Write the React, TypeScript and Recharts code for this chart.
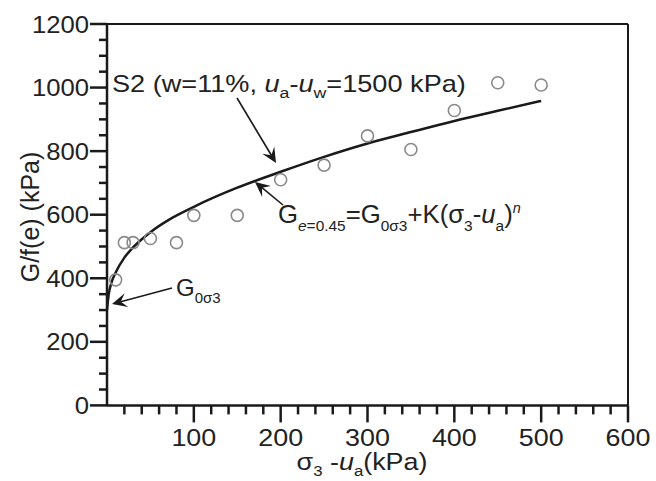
import { ComposedChart, Line, Scatter, XAxis, YAxis, ReferenceLine } from 'recharts';

// fitted curve
const curveX = [0, 2, 5, 10, 20, 30, 50, 75, 100, 150, 200, 250, 300, 350, 400, 450, 500];
const curveG = [300, 350, 385, 418, 465, 497, 545, 590, 625, 685, 735, 782, 824, 860, 895, 927, 958];

// measured points (open circles)
const pointX = [10, 20, 30, 50, 80, 100, 150, 200, 250, 300, 350, 400, 450, 500];
const pointG = [395, 512, 512, 525, 512, 598, 598, 710, 756, 848, 805, 928, 1015, 1008];

const xMajor = [100, 200, 300, 400, 500, 600];
const yMajor = [0, 200, 400, 600, 800, 1000, 1200];

const xTicks: number[] = [];
for (let v = 20; v <= 600; v += 20) xTicks.push(v);
const yTicks: number[] = [];
for (let v = 0; v <= 1200; v += 50) yTicks.push(v);

const curveData = curveX.map((x, i) => ({ x, g: curveG[i] }));
const pointData = pointX.map((x, i) => ({ x, g: pointG[i] }));

const font = '"Liberation Sans", Arial, sans-serif';
const ink = '#1a1a1a';

const XTick = (props: any) => {
  const { x, y, payload } = props;
  const major = xMajor.includes(payload.value);
  return (
    <g>
      <line x1={x} x2={x} y1={y} y2={y + (major ? 17 : 9)} stroke={ink} strokeWidth={2.5} />
      {major && (
        <text
          transform={`translate(${x},${y + 41}) scale(1.12,1)`}
          textAnchor="middle"
          fontSize={24}
          fill="#222"
          fontFamily={font}
        >
          {payload.value}
        </text>
      )}
    </g>
  );
};

const YTick = (props: any) => {
  const { x, y, payload } = props;
  const major = yMajor.includes(payload.value);
  return (
    <g>
      <line x1={x - (major ? 17 : 8)} x2={x} y1={y} y2={y} stroke={ink} strokeWidth={2.5} />
      {major && (
        <text
          transform={`translate(${x - 18},${y + 8.5}) scale(1.07,1)`}
          textAnchor="end"
          fontSize={24}
          fill="#222"
          fontFamily={font}
        >
          {payload.value}
        </text>
      )}
    </g>
  );
};

const Circle = (props: any) => (
  <circle cx={props.cx} cy={props.cy} r={6} fill="none" stroke="#8a8a8a" strokeWidth={1.6} />
);

function Arrow({ x1, y1, x2, y2 }: { x1: number; y1: number; x2: number; y2: number }) {
  const dx = x2 - x1;
  const dy = y2 - y1;
  const len = Math.sqrt(dx * dx + dy * dy);
  const ux = dx / len;
  const uy = dy / len;
  const px = -uy;
  const py = ux;
  const hl = 15;
  const hw = 7;
  const bx = x2 - ux * hl;
  const by = y2 - uy * hl;
  const nx = x2 - ux * hl * 0.6;
  const ny = y2 - uy * hl * 0.6;
  return (
    <g>
      <line x1={x1} y1={y1} x2={nx} y2={ny} stroke={ink} strokeWidth={1.6} />
      <polygon
        points={`${x2},${y2} ${bx + px * hw},${by + py * hw} ${nx},${ny} ${bx - px * hw},${by - py * hw}`}
        fill={ink}
      />
    </g>
  );
}

export default function App() {
  return (
    <div style={{ position: 'absolute', left: 0, top: 0, width: 656, height: 481, background: '#fff' }}>
      <ComposedChart width={656} height={481} data={curveData} margin={{ top: 24, right: 28, left: 0, bottom: 0 }}>
        <XAxis
          dataKey="x"
          type="number"
          domain={[0, 600]}
          ticks={xTicks}
          interval={0}
          height={75.6}
          tickSize={0}
          tickMargin={0}
          tick={<XTick />}
          axisLine={{ stroke: ink, strokeWidth: 2.5 }}
          allowDataOverflow
        />
        <YAxis
          type="number"
          domain={[0, 1200]}
          ticks={yTicks}
          interval={0}
          width={107}
          tickSize={0}
          tickMargin={0}
          tick={<YTick />}
          axisLine={{ stroke: ink, strokeWidth: 2.5 }}
          allowDataOverflow
        />
        <ReferenceLine y={1200} stroke={ink} strokeWidth={2} />
        <ReferenceLine x={600} stroke={ink} strokeWidth={2} />
        <Line dataKey="g" type="monotone" dot={false} stroke={ink} strokeWidth={2.5} isAnimationActive={false} />
        <Scatter data={pointData} dataKey="g" shape={<Circle />} isAnimationActive={false} />
      </ComposedChart>

      <svg
        width={656}
        height={481}
        style={{ position: 'absolute', left: 0, top: 0, pointerEvents: 'none' }}
        fontFamily={font}
        fill="#222"
      >
        {/* axis titles */}
        <text transform="translate(39,217) rotate(-90)" textAnchor="middle" fontSize={25}>
          G/f(e) (kPa)
        </text>
        <text transform="translate(362,470) scale(1.12,1)" textAnchor="middle" fontSize={24}>
          σ<tspan fontSize={15} dy={6}>3</tspan>
          <tspan dy={-6}> -</tspan>
          <tspan fontStyle="italic">u</tspan>
          <tspan fontSize={15} dy={6}>a</tspan>
          <tspan dy={-6}>(kPa)</tspan>
        </text>

        {/* annotations */}
        <text transform="translate(112,92) scale(1.18,1)" fontSize={23}>
          S2 (w=11%, <tspan fontStyle="italic">u</tspan>
          <tspan fontSize={15} dy={6}>a</tspan>
          <tspan dy={-6}>-</tspan>
          <tspan fontStyle="italic">u</tspan>
          <tspan fontSize={15} dy={6}>w</tspan>
          <tspan dy={-6}>=1500 kPa)</tspan>
        </text>
        <Arrow x1={237} y1={98} x2={276} y2={163} />

        <text transform="translate(278,223) scale(1.03,1)" fontSize={25}>
          G<tspan fontSize={15} dy={8}><tspan fontStyle="italic">e</tspan>=0.45</tspan>
          <tspan dy={-8}>=G</tspan>
          <tspan fontSize={15} dy={8}>0σ3</tspan>
          <tspan dy={-8}>+K(σ</tspan>
          <tspan fontSize={15} dy={8}>3</tspan>
          <tspan dy={-8}>-</tspan>
          <tspan fontStyle="italic">u</tspan>
          <tspan fontSize={15} dy={8}>a</tspan>
          <tspan dy={-8}>)</tspan>
          <tspan fontSize={14} dy={-10} fontStyle="italic">n</tspan>
        </text>
        <Arrow x1={283} y1={205} x2={255} y2={182} />

        <text x={176} y={296} fontSize={24}>
          G<tspan fontSize={15} dy={7}>0σ3</tspan>
        </text>
        <Arrow x1={172} y1={288} x2={112} y2={304} />
      </svg>
    </div>
  );
}
